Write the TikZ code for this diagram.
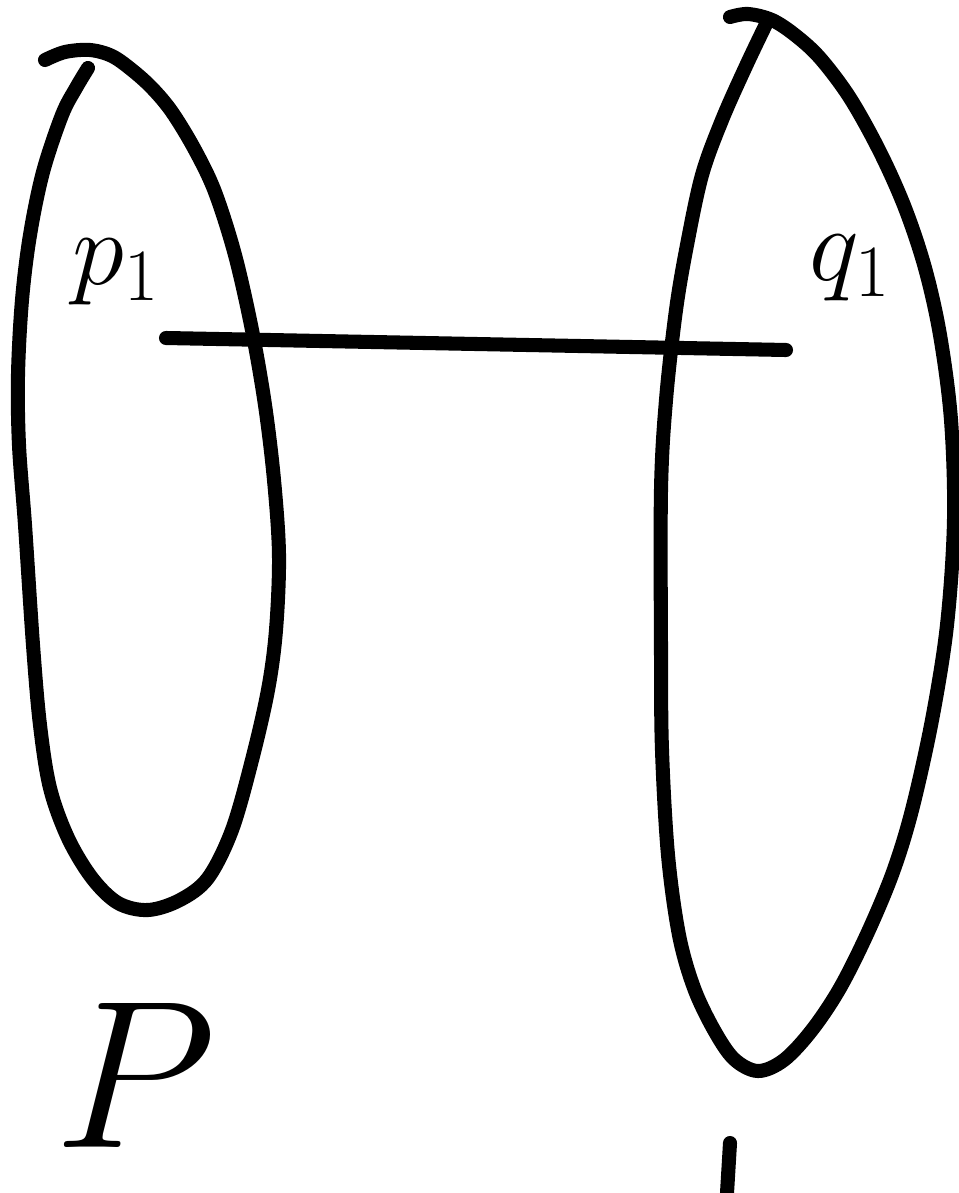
\RequirePackage{fix-cm}
\documentclass[tikz,border=0pt]{standalone}
\usepackage{tikz}
\usetikzlibrary{positioning}
\tikzset{
  ink/.style={draw=black, line width=8pt, line cap=round, line join=round},
  setline/.style={ink, smooth, tension=0.55},
  elemlabel/.style={font=\fontsize{60}{60}\selectfont, inner sep=0pt},
  setlabel/.style={font=\fontsize{120}{120}\selectfont, inner sep=0pt},
}
\begin{document}
\begin{tikzpicture}[x=0.02cm,y=-0.02cm]
\useasboundingbox (0,0) rectangle (959,1193);
% the two sets, traced by hand
\draw[setline] plot coordinates {(45,60) (65,52) (90,50) (112,56) (132,70) (152,88) (172,112)
  (195,150) (215,192) (235,255) (252,330) (265,405) (274,480) (279,555) (276,630) (268,690)
  (252,760) (232,830) (208,878) (180,900) (148,910) (118,903) (92,878) (68,838) (50,788)
  (40,725) (33,645) (25,525) (19,445) (18,375) (22,300) (30,235) (43,172) (62,115) (76,88) (88,68)};
\draw[setline] plot coordinates {(730,17) (748,14) (772,20) (795,35) (820,58) (850,98) (880,152)
  (905,208) (925,268) (940,335) (951,420) (954,520) (947,625) (932,720) (912,810) (893,872)
  (868,932) (840,988) (812,1030) (784,1060) (758,1071) (734,1059) (714,1030) (694,988)
  (679,935) (668,855) (662,750) (661,650) (661,490) (666,400) (676,310) (687,245) (702,175)
  (722,120) (746,66) (768,20)};
% elements
\node[elemlabel] (p1) at (116,272) {$p_1$};
\node[elemlabel] (q1) at (850,268) {$q_1$};
\coordinate (p1dot) at (166,338);
\coordinate (q1dot) at (786,350);
\draw[ink] (p1dot) -- (q1dot);
\fill (q1dot) ++(-8,0) circle[x radius=9, y radius=6];
% set names
\node[setlabel] (nameP) at (135,1075) {$P$};
\draw[ink] (730,1143) -- (727,1193);
\end{tikzpicture}
\end{document}
